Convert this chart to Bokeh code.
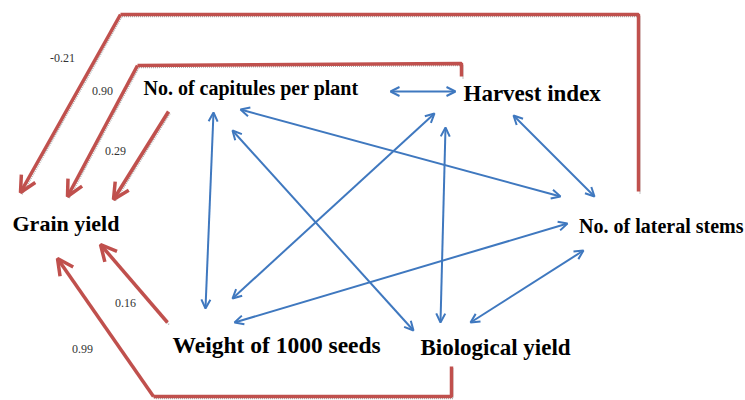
from bokeh.plotting import figure
from bokeh.models import Range1d, Arrow, OpenHead, Label
from bokeh.embed import file_html
from bokeh.resources import INLINE

# ---- data ----
nodes = ["Grain yield", "No. of capitules per plant", "Harvest index",
         "No. of lateral stems", "Weight of 1000 seeds", "Biological yield"]
predictors = ["No. of lateral stems", "Harvest index", "No. of capitules per plant",
              "Weight of 1000 seeds", "Biological yield"]
direct_effects = [-0.21, 0.90, 0.29, 0.16, 0.99]
corr_a = ["No. of capitules per plant"] * 4 + ["Harvest index"] * 3 + ["Weight of 1000 seeds", "Biological yield"]
corr_b = ["Harvest index", "Weight of 1000 seeds", "Biological yield", "No. of lateral stems",
          "Weight of 1000 seeds", "Biological yield", "No. of lateral stems",
          "No. of lateral stems", "No. of lateral stems"]

# ---- layout (diagram geometry, pixel-like coordinates) ----
node_pos = {  # x, centre y, size, align
    "Grain yield": (12, 222.5, 22, "left"),
    "No. of capitules per plant": (143, 87, 20, "left"),
    "Harvest index": (463, 93, 23, "left"),
    "No. of lateral stems": (743, 225, 20, "right"),
    "Weight of 1000 seeds": (172, 344.5, 23.5, "left"),
    "Biological yield": (420, 346.5, 23, "left"),
}
routes = {
    "No. of lateral stems": [(638, 191), (638, 14), (120, 14), (20, 192)],
    "Harvest index": [(461, 76), (461, 63), (137, 65), (67, 196)],
    "No. of capitules per plant": [(168, 111), (113, 199)],
    "Weight of 1000 seeds": [(167, 322), (100, 244)],
    "Biological yield": [(451, 366), (451, 396), (153, 396), (57, 258)],
}
coef_pos = {
    "No. of lateral stems": (62, 57),
    "Harvest index": (102, 90),
    "No. of capitules per plant": (115, 150),
    "Weight of 1000 seeds": (125, 302),
    "Biological yield": (82, 348),
}
corr_ends = [
    ((390, 91), (455, 91)),
    ((213, 112), (205, 308)),
    ((232, 130), (413, 330)),
    ((240, 109), (560, 196)),
    ((434, 113), (232, 298)),
    ((445, 127), (440, 322)),
    ((513, 115), (594, 196)),
    ((234, 322), (567, 223)),
    ((470, 322), (583, 250)),
]

RED = "#c0504d"
BLUE = "#3f78bf"
SERIF = "Liberation Serif"

p = figure(width=745, height=400, output_backend="svg", toolbar_location=None,
           x_range=Range1d(0, 745), y_range=Range1d(400, 0), min_border=0)
p.axis.visible = False
p.grid.visible = False
p.outline_line_color = None
p.background_fill_color = "white"

# red direct-effect paths
for name, val in zip(predictors, direct_effects):
    pts = routes[name]
    xs = [q[0] for q in pts]
    ys = [q[1] for q in pts]
    # shadow
    p.line([x + 1.5 for x in xs], [y + 2 for y in ys], line_color="#9a9a9a",
           line_width=1.5, line_dash="1 1", line_alpha=0.8)
    if len(pts) > 2:
        p.line(xs[:-1], ys[:-1], line_color=RED, line_width=3.5)
    p.add_layout(Arrow(x_start=xs[-2], y_start=ys[-2], x_end=xs[-1], y_end=ys[-1],
                       line_color=RED, line_width=3.5,
                       end=OpenHead(size=16, line_color=RED, line_width=3.5)))
    cx, cy = coef_pos[name]
    p.add_layout(Label(x=cx, y=cy, text=f"{val:.2f}", text_font=SERIF,
                       text_font_size="12px", text_color="#333333",
                       text_align="center", text_baseline="middle"))

# blue correlation arrows
for a, b, ((x0, y0), (x1, y1)) in zip(corr_a, corr_b, corr_ends):
    p.add_layout(Arrow(x_start=x0, y_start=y0, x_end=x1, y_end=y1,
                       line_color=BLUE, line_width=2,
                       start=OpenHead(size=9, line_color=BLUE, line_width=2),
                       end=OpenHead(size=9, line_color=BLUE, line_width=2)))

# node labels
for n in nodes:
    x, y, s, al = node_pos[n]
    p.add_layout(Label(x=x, y=y, text=n, text_font=SERIF, text_font_style="bold",
                       text_font_size=f"{s}px", text_color="black",
                       text_align=al, text_baseline="middle"))

open("out.html", "w").write(file_html(p, INLINE))
